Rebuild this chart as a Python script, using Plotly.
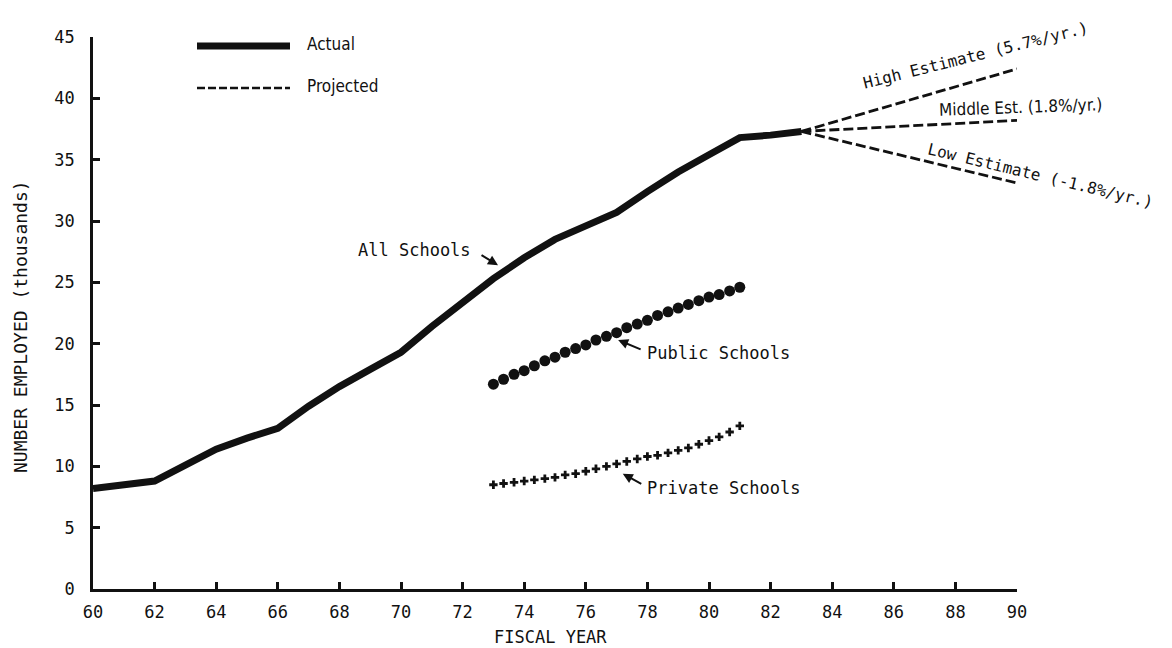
import plotly.graph_objects as go

# Employment, all schools (fiscal years, thousands employed)
all_years = [60, 61, 62, 63, 64, 65, 66, 67, 68, 69, 70, 71, 72, 73, 74, 75, 76, 77, 78, 79, 80, 81, 82, 83]
all_values = [8.2, 8.5, 8.8, 10.1, 11.4, 12.3, 13.1, 14.9, 16.5, 17.9, 19.3, 21.4, 23.4, 25.3,
              27.0, 28.5, 29.6, 30.7, 32.4, 34.0, 35.4, 36.8, 37.0, 37.3]

# Public schools, plotted point by point
public_years = [73.00, 73.33, 73.67, 74.00, 74.33, 74.67, 75.00, 75.33, 75.67, 76.00, 76.33, 76.67,
                77.00, 77.33, 77.67, 78.00, 78.33, 78.67, 79.00, 79.33, 79.67, 80.00, 80.33, 80.67, 81.00]
public_values = [16.7, 17.1, 17.5, 17.8, 18.2, 18.6, 18.9, 19.3, 19.6, 19.9, 20.3, 20.6,
                 20.9, 21.3, 21.6, 21.9, 22.3, 22.6, 22.9, 23.2, 23.5, 23.8, 24.0, 24.3, 24.6]

# Private schools
private_years = [73.00, 73.33, 73.67, 74.00, 74.33, 74.67, 75.00, 75.33, 75.67, 76.00, 76.33, 76.67,
                 77.00, 77.33, 77.67, 78.00, 78.33, 78.67, 79.00, 79.33, 79.67, 80.00, 80.33, 80.67, 81.00]
private_values = [8.5, 8.6, 8.7, 8.8, 8.9, 9.0, 9.1, 9.3, 9.4, 9.6, 9.8, 10.0,
                  10.2, 10.4, 10.6, 10.8, 10.9, 11.1, 11.3, 11.5, 11.8, 12.1, 12.4, 12.8, 13.3]

# Projections from FY83 to FY90
proj_years = [83, 90]
high_values = [37.3, 42.4]
middle_values = [37.3, 38.2]
low_values = [37.3, 33.1]

x_ticks = list(range(60, 91, 2))
y_ticks = list(range(0, 46, 5))

MONO = "DejaVu Sans Mono"
NARROW = "Liberation Sans Narrow, DejaVu Sans Condensed, DejaVu Sans Mono"
BLACK = "#111111"

# plot area in pixels
L, R, T, B = 93, 1017, 37, 589
W, H = 1172, 648


def px(x):
    return (x - L) / (R - L)


def py(y):
    return (B - y) / (B - T)


fig = go.Figure()

fig.add_trace(go.Scatter(x=all_years, y=all_values, mode="lines",
                         line=dict(color=BLACK, width=7), showlegend=False))

proj_dash = "10px,4px"
for vals in (high_values, middle_values, low_values):
    fig.add_trace(go.Scatter(x=proj_years, y=vals, mode="lines",
                             line=dict(color=BLACK, width=2.8, dash=proj_dash), showlegend=False))

fig.add_trace(go.Scatter(x=public_years, y=public_values, mode="markers",
                         marker=dict(symbol="circle", size=11, color=BLACK), showlegend=False))
fig.add_trace(go.Scatter(x=private_years, y=private_values, mode="markers",
                         marker=dict(symbol="cross", size=7, color=BLACK), showlegend=False))

annotations = []


def text(s, x, y, size, xanchor="center", angle=0, family=MONO):
    annotations.append(dict(text=s, x=px(x), y=py(y), xref="paper", yref="paper",
                            xanchor=xanchor, yanchor="middle", showarrow=False,
                            textangle=angle, font=dict(family=family, size=size, color=BLACK)))


def arrow(x, y, ax, ay):
    annotations.append(dict(text="", x=x, y=y, xref="x", yref="y", ax=ax, ay=ay,
                            showarrow=True, arrowhead=2, arrowsize=1, arrowwidth=2,
                            arrowcolor=BLACK))


# series labels
text("All Schools", 473, 250, 17, xanchor="right")
arrow(73.15, 26.4, -18, -11)
text("Public Schools", 645, 353, 17, xanchor="left")
arrow(77.05, 20.3, 24, 10)
text("Private Schools", 645, 488, 17, xanchor="left")
arrow(77.2, 9.4, 20, 11)

# projection labels
text("High Estimate (5.7%/yr.)", 975, 55, 16, angle=-14)
text("Middle Est. (1.8%/yr.)", 1020, 107, 17, angle=-2, family=NARROW)
text("Low Estimate (-1.8%/yr.)", 1040, 175, 16, angle=13.5)

# key
text("Actual", 305, 44, 17, xanchor="left", family=NARROW)
text("Projected", 305, 86, 17, xanchor="left", family=NARROW)

# axis titles
text("FISCAL YEAR", 550, 637, 17)
annotations.append(dict(text="NUMBER EMPLOYED (thousands)", x=px(20), y=py(327),
                        xref="paper", yref="paper", xanchor="center", yanchor="middle",
                        showarrow=False, textangle=-90,
                        font=dict(family=MONO, size=18, color=BLACK)))

shapes = [
    dict(type="line", xref="paper", yref="paper", x0=px(197), x1=px(290), y0=py(46), y1=py(46),
         line=dict(color=BLACK, width=7)),
    dict(type="line", xref="paper", yref="paper", x0=px(197), x1=px(290), y0=py(88), y1=py(88),
         line=dict(color=BLACK, width=2.5, dash="8px,3px")),
]

axis_common = dict(showline=True, linecolor=BLACK, linewidth=2.5, ticks="inside",
                   tickcolor=BLACK, tickwidth=2.5, ticklen=7, showgrid=False, zeroline=False,
                   tickfont=dict(family=MONO, size=17, color=BLACK), mirror=False)

fig.update_layout(
    width=W, height=H,
    margin=dict(l=L, r=W - R, t=T, b=H - B),
    paper_bgcolor="white", plot_bgcolor="white",
    xaxis=dict(range=[60, 90], tickvals=x_ticks, ticklabelstandoff=6, **axis_common),
    yaxis=dict(range=[0, 45], tickvals=y_ticks, ticklabelstandoff=12, **axis_common),
    annotations=annotations,
    shapes=shapes,
    showlegend=False,
)

fig.write_html("out.html")
